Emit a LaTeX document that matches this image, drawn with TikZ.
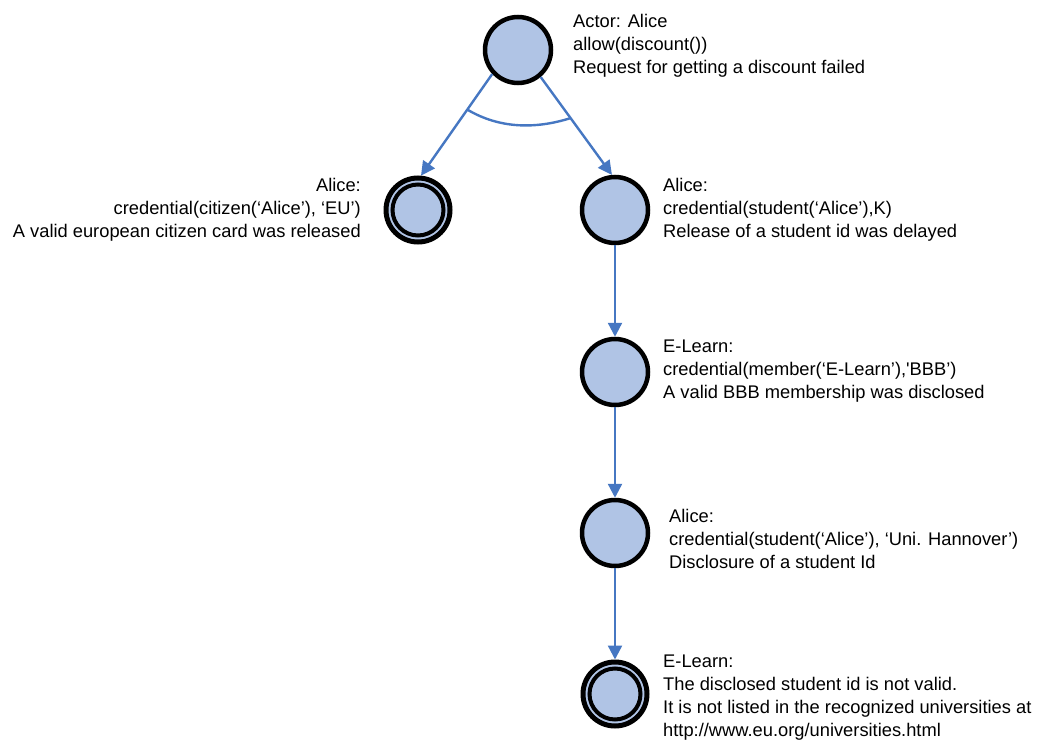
\documentclass[tikz,border=0pt]{standalone}
\usepackage{fontspec}
\setmainfont{Liberation Sans}
\usetikzlibrary{arrows.meta}
\definecolor{statefill}{HTML}{B0C4E5}
\definecolor{flowblue}{HTML}{4677C2}
\tikzset{
  state/.style={circle, draw=black, line width=4.5pt, fill=statefill, minimum size=66pt, inner sep=0pt},
  info/.style={inner sep=0pt, font=\fontsize{18.3pt}{23pt}\selectfont},
  flow/.style={draw=flowblue, line width=2.4pt, -{Triangle[length=14pt,width=14pt]}},
}
\begin{document}
\begin{tikzpicture}[x=1pt, y=-1pt]
\useasboundingbox (0,0) rectangle (1041,746);

% states
\node[state] (root) at (518,50) {};
\node[state] (rel) at (615,210) {};
\node[state] (bbb) at (615,372) {};
\node[state] (sid) at (615,533) {};
\node[state, line width=5pt, minimum size=64pt] (eu) at (418,210) {};
\node[state, line width=5pt, minimum size=64pt] (bad) at (615,694) {};
% inner rings of the final states
\foreach \n in {eu,bad}{
  \draw[statefill, line width=1pt] (\n.center) circle (28.5pt);
  \draw[black, line width=4pt] (\n.center) circle (25.5pt);
}

% descriptions
\node[info, anchor=west, align=left] (t-root) at (573,46)
  {Actor: Alice\\allow(discount())\\Request for getting a discount failed};
\node[info, anchor=east, align=right] (t-eu) at (361,210)
  {Alice:\\credential(citizen(‘Alice’), ‘EU’)\\A valid european citizen card was released};
\node[info, anchor=west, align=left] (t-rel) at (663,210)
  {Alice:\\credential(student(‘Alice’),K)\\Release of a student id was delayed};
\node[info, anchor=west, align=left] (t-bbb) at (663,371)
  {E-Learn:\\credential(member(‘E-Learn’),\textquotesingle BBB’)\\A valid BBB membership was disclosed};
\node[info, anchor=west, align=left] (t-sid) at (669,539)
  {Alice:\\credential(student(‘Alice’), ‘Uni. Hannover’)\\Disclosure of a student Id};
\node[info, anchor=west, align=left] (t-bad) at (663,698)
  {E-Learn:\\The disclosed student id is not valid.\\It is not listed in the recognized universities at\\http://www.eu.org/universities.html};

% connectors
\draw[flow] (root.223) -- (eu.85) coordinate[pos=0.35] (andL);
\draw[flow] (root.310) -- (rel.95) coordinate[pos=0.42] (andR);
\draw[flow] (rel) -- (bbb);
\draw[flow] (bbb) -- (sid);
\draw[flow] (sid) -- (bad);

% conjunction arc across the two branches
\draw[flowblue, line width=2.4pt] (andL) .. controls (500,129) and (536,129) .. (andR);
\end{tikzpicture}
\end{document}
